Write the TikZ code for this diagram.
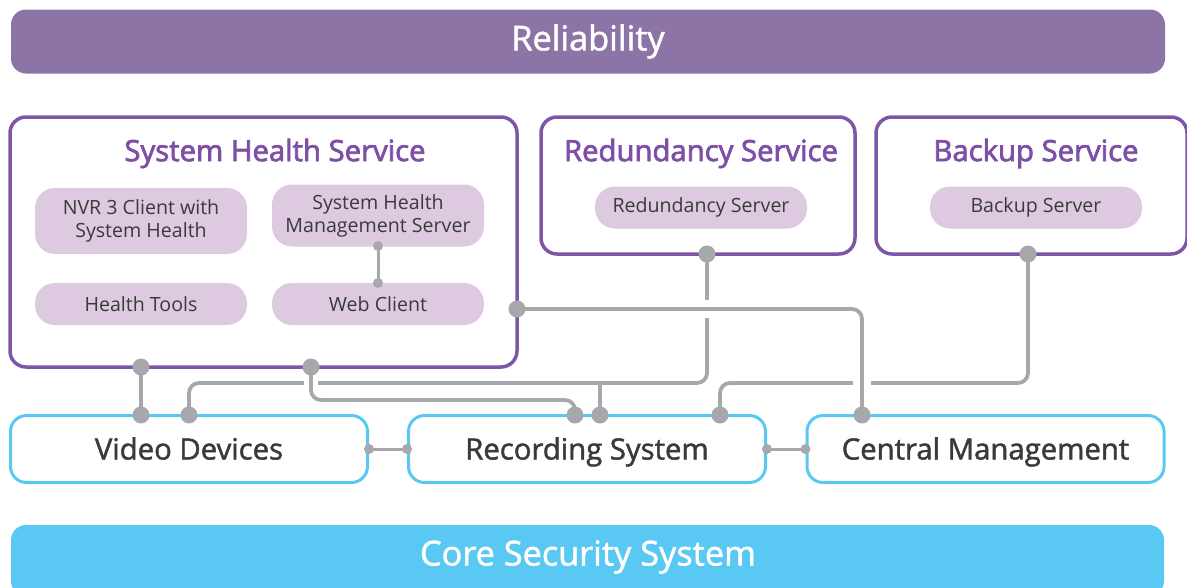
\documentclass[tikz,border=0pt]{standalone}
\usepackage{fontspec}
\setmainfont{Open Sans}
\newfontfamily\semifont[FakeBold=2.5]{Open Sans}
\newfontfamily\medfont[FakeBold=1.5]{Open Sans}
\definecolor{relpurple}{HTML}{8C74A6}
\definecolor{titlepurple}{HTML}{7D4FA6}
\definecolor{boxpurple}{HTML}{7E56A8}
\definecolor{pillfill}{HTML}{DDCAE1}
\definecolor{coreblue}{HTML}{59C9F3}
\definecolor{linegray}{HTML}{A6A8AB}
\definecolor{textdark}{HTML}{3A3A3A}
\tikzset{
  bar/.style={rounded corners=15pt, minimum width=1154pt, text=white, font=\medfont\fontsize{34.3}{40}\selectfont, inner sep=0pt},
  svcbox/.style={draw=boxpurple, line width=3.5pt, rounded corners=16pt, fill=white, inner sep=0pt},
  svctitle/.style={text=titlepurple, font=\semifont\fontsize{29.3}{34}\selectfont},
  pill/.style={fill=pillfill, rounded corners=20pt, minimum width=212pt, text=textdark, font=\fontsize{19.6}{23}\selectfont, align=center, inner sep=0pt},
  corebox/.style={draw=coreblue, line width=3pt, rounded corners=16pt, fill=white, minimum width=357pt, minimum height=67pt, text=textdark, font=\medfont\fontsize{29.3}{34}\selectfont, inner sep=0pt, text height=21pt, text depth=0pt},
  conn/.style={draw=linegray, line width=3.8pt, rounded corners=10pt},
  thin/.style={draw=linegray, line width=3pt},
  bigdot/.style={circle, fill=linegray, minimum size=17pt, inner sep=0pt},
  smalldot/.style={circle, fill=linegray, minimum size=10pt, inner sep=0pt}
}
\begin{document}
\begin{tikzpicture}[x=1pt,y=-1pt]
\useasboundingbox (0,0) rectangle (1187,587);
% bars
\node[bar, fill=relpurple, minimum height=64pt] (rel) at (588,41.5) {Reliability};
\fill[coreblue, rounded corners=15pt] (11,525) rectangle (1164,596);
\node[text=white, font=\medfont\fontsize{34.3}{40}\selectfont] (core) at (588,557) {Core Security System};

% service boxes
\node[svcbox, minimum width=507pt, minimum height=250pt] (shs) at (263.5,242) {};
\node[svcbox, minimum width=314pt, minimum height=137pt] (red) at (698,185.5) {};
\node[svcbox, minimum width=311pt, minimum height=137pt] (bak) at (1031.5,185.5) {};

\node[svctitle] (shst) at (275,153.5) {System Health Service};
\node[svctitle] (redt) at (701,153.5) {Redundancy Service};
\node[svctitle] (bakt) at (1036,153.5) {Backup Service};

% pills
\node[pill, minimum height=66pt] (nvr) at (141,221) {NVR 3 Client with\\System Health};
\node[pill, minimum height=62pt] (shms) at (378,215.5) {System Health\\Management Server};
\node[pill, minimum height=42pt] (ht) at (141,304) {Health Tools};
\node[pill, minimum height=42pt] (wc) at (378,304) {Web Client};
\node[pill, minimum height=42pt] (rs) at (701,207.5) {Redundancy Server};
\node[pill, minimum height=42pt] (bs) at (1036,207.5) {Backup Server};

% core boxes
\node[corebox] (vd) at (189,449) {Video Devices};
\node[corebox] (rec) at (587,449) {Recording System};
\node[corebox] (cm) at (985.5,449) {Central Management};

% coordinates
\coordinate (shsb1) at (141,367);
\coordinate (vdt1) at (141,415);
\coordinate (vdt2) at (189,415);
\coordinate (shsb2) at (311,367);
\coordinate (rect1) at (575,415);
\coordinate (rect2) at (600,415);
\coordinate (rect3) at (720,415);
\coordinate (redb) at (707,254);
\coordinate (bakb) at (1028,254);
\coordinate (shsr) at (517,309);
\coordinate (cmt) at (862,415);
\coordinate (shmsb) at (378,246);
\coordinate (wct) at (378,283);

% connectors: redundancy
\draw[conn] (redb) |- (vdt2 |- 0,383) -- (vdt2);
\draw[thin, line width=3.8pt] (rect2 |- 0,383) -- (rect2);
% backup
\draw[conn] (bakb) |- (rect3 |- 0,383) -- (rect3);
% gaps in lines crossing
\draw[white, line width=14pt] (311,380) -- (311,386);
\draw[white, line width=18pt] (707,300) -- (707,318);
\draw[white, line width=18pt] (853,383) -- (871,383);
% system health -> recording
\draw[conn] (shsb2) |- (rect1 |- 0,400) -- (rect1);
% system health -> central management
\draw[conn] (shsr) -| (cmt);
% simple connectors
\draw[thin, line width=3.8pt] (shsb1) -- (vdt1);
\draw[thin] (shmsb) -- (wct);
\draw[thin] (vd.east) -- (rec.west);
\draw[thin] (rec.east) -- (cm.west);

% dots
\foreach \p in {shsb1,vdt1,vdt2,shsb2,rect1,rect2,rect3,redb,bakb,shsr,cmt}
  \node[bigdot] at (\p) {};
\node[smalldot] (d1) at (shmsb) {};
\node[smalldot] (d2) at (wct) {};
\node[smalldot] (d3) at (vd.east) {};
\node[smalldot] (d4) at (rec.west) {};
\node[smalldot] (d5) at (rec.east) {};
\node[smalldot] (d6) at (cm.west) {};
\end{tikzpicture}
\end{document}
